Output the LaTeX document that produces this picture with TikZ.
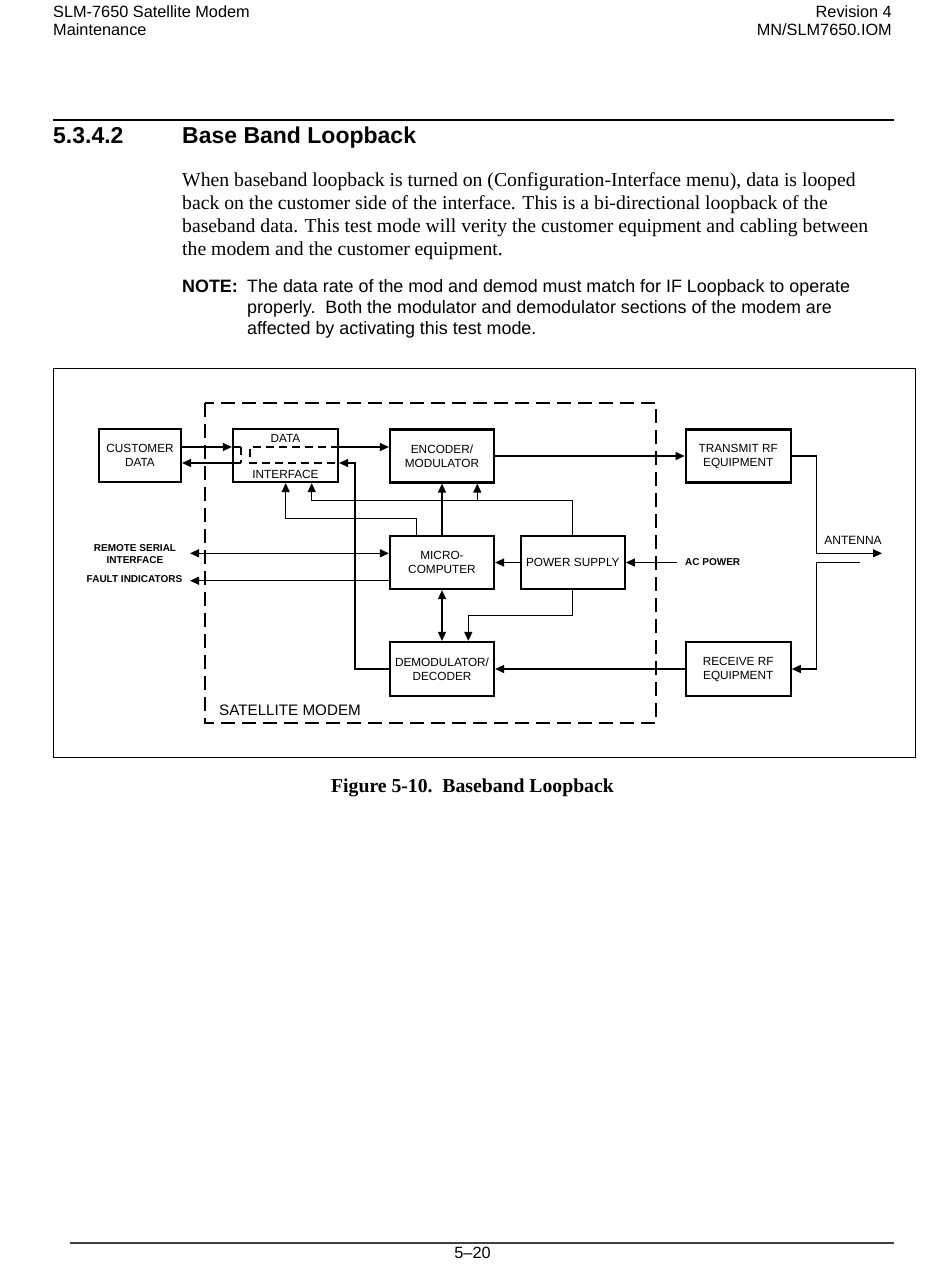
\documentclass[tikz,border=0pt]{standalone}
\usepackage{fontspec}
\setmainfont{Liberation Sans}
\newfontfamily\timesfont{Liberation Serif}
\usetikzlibrary{arrows.meta}
\begin{document}
\begin{tikzpicture}[x=1pt,y=-1pt,
  box/.style={draw, line width=2.2pt, minimum width=104pt, minimum height=53pt, align=center, inner sep=0pt, font=\fontsize{11.8}{14}\selectfont},
  conn/.style={line width=1.3pt},
  arr/.style={conn, -{Triangle[length=9pt,width=8pt]}},
  arrb/.style={conn, {Triangle[length=9pt,width=8pt]}-{Triangle[length=9pt,width=8pt]}},
  innerdash/.style={line width=1.3pt, dash pattern=on 8pt off 5pt},
  modemdash/.style={line width=1.5pt, dash pattern=on 14pt off 7pt},
  small/.style={font=\fontsize{10}{12}\selectfont\bfseries, align=center, inner sep=0pt},
  lbl/.style={font=\fontsize{11.8}{14}\selectfont, inner sep=0pt},
  hdr/.style={font=\fontsize{16.3}{18}\selectfont, inner sep=0pt},
  body/.style={font=\timesfont\fontsize{19.7}{23}\selectfont, inner sep=0pt, anchor=base west},
  note/.style={font=\fontsize{17.9}{21}\selectfont, inner sep=0pt, anchor=base west}
]
\useasboundingbox (0,0) rectangle (950,1276);
\fill[white] (0,0) rectangle (950,1276);

% page header
\node[hdr, anchor=base west] (h1) at (53,18) {SLM-7650 Satellite Modem};
\node[hdr, anchor=base west] (h2) at (53,36) {Maintenance};
\node[hdr, anchor=base east] (h3) at (892,18) {Revision 4};
\node[hdr, anchor=base east] (h4) at (892,36) {MN/SLM7650.IOM};
\draw[line width=2pt] (53,120) -- (894,120);

% heading
\node[font=\fontsize{23}{26}\selectfont\bfseries, inner sep=0pt, anchor=base west] (secnum) at (53,144) {5.3.4.2};
\node[font=\fontsize{23}{26}\selectfont\bfseries, inner sep=0pt, anchor=base west] (sectitle) at (182,144) {Base Band Loopback};

% body
\node[body] (b1) at (182,186) {When baseband loopback is turned on (Configuration-Interface menu), data is looped};
\node[body] (b2) at (182,209) {back on the customer side of the interface. This is a bi-directional loopback of the};
\node[body] (b3) at (182,232) {baseband data. This test mode will verity the customer equipment and cabling between};
\node[body] (b4) at (182,255) {the modem and the customer equipment.};

\node[note, font=\fontsize{17.9}{21}\selectfont\bfseries] (n0) at (182,292) {NOTE:};
\node[note] (n1) at (247,292) {The data rate of the mod and demod must match for IF Loopback to operate};
\node[note] (n2) at (247,313) {properly.\ \ Both the modulator and demodulator sections of the modem are};
\node[note] (n3) at (247,334) {affected by activating this test mode.};

% figure frame
\draw[line width=1pt] (53.5,368.5) rectangle (915.5,757.5);
\draw[modemdash] (205,403) rectangle (656,723);
\node[font=\fontsize{15.2}{17}\selectfont, inner sep=0pt, anchor=west] (satlbl) at (219,710) {SATELLITE MODEM};

% boxes
\node[box, minimum width=82pt] (cust) at (140,455.5) {CUSTOMER\\DATA};
\node[box, minimum width=105pt] (di) at (285.5,455.5) {};
\node[lbl] (ditop) at (285.5,438.5) {DATA};
\node[lbl] (dibot) at (285.5,474) {INTERFACE};
\node[box] (enc) at (442,456) {ENCODER/\\MODULATOR};
\node[box, minimum width=105pt] (tx) at (738.2,456) {TRANSMIT RF\\EQUIPMENT};
\node[box] (micro) at (442,562.5) {MICRO-\\COMPUTER};
\node[box] (ps) at (572.8,562.5) {POWER SUPPLY};
\node[box, minimum height=54pt] (demod) at (442,669) {DEMODULATOR/\\DECODER};
\node[box, minimum width=105pt, minimum height=54pt] (rx) at (738.2,669) {RECEIVE RF\\EQUIPMENT};

% outside labels
\node[small] (remote) at (135,554) {REMOTE SERIAL\\INTERFACE};
\node[small] (fault) at (134.5,579.5) {FAULT INDICATORS};
\node[small, anchor=west] (acp) at (685,562.5) {AC POWER};
\node[lbl, font=\fontsize{12}{14}\selectfont] (antlbl) at (853,540) {ANTENNA};

\coordinate (antout) at (882,553.3);
\coordinate (antin) at (860,562.7);
\coordinate (acsrc) at (676.7,562.5);
\coordinate (remend) at (190,553.3);
\coordinate (faultend) at (190,580.7);

% data interface loopback
\draw[arr] (cust.east |- 0,447) -- (di.west |- 0,447);
\draw[conn] (di.west |- 0,447) -- (241,447);
\draw[innerdash] (241,447) -- (241,463);
\draw[arr] (241,463) -- (cust.east |- 0,463);
\draw[innerdash] (di.east |- 0,447) -- (250,447) -- (250,463) -- (di.east |- 0,463);

% main connectors
\draw[arr] (di.east |- 0,447) -- (enc.west |- 0,447);
\draw[arr] (enc.east) -- (tx.west);
\draw[arr] (tx.east) -- (816.7,456) -- (816.7,553.3) -- (antout);
\draw[arr] (antin) -- (816.7,562.7) -- (816.7,669) -- (rx.east);
\draw[arr] (rx.west) -- (demod.east);
\draw[arr] (demod.west) -- (355,669) -- (355,463) -- (di.east |- 0,463);
\draw[arr] (acsrc) -- (ps.east);
\draw[arr] (ps.west) -- (micro.east);
\draw[arr] (ps.south) -- (572.8,615.7) -- (468.3,615.7) -- (468.3,0 |- demod.north);
\draw[arrb] (micro.south) -- (demod.north);
\draw[arr] (micro.north) -- (enc.south);
\draw[arr] (ps.north) -- (572.8,500.7) -- (311.7,500.7) -- (311.7,0 |- di.south);
\draw[arr] (477.3,500.7) -- (477.3,0 |- enc.south);
\draw[arr] (416.7,0 |- micro.north) -- (416.7,518.3) -- (285.7,518.3) -- (285.7,0 |- di.south);
\draw[arrb] (remend) -- (micro.west |- 0,553.3);
\draw[arr] (micro.west |- 0,580.7) -- (faultend);

% caption
\node[font=\timesfont\fontsize{19.7}{22}\selectfont\bfseries, inner sep=0pt, anchor=base] (cap) at (472.5,792) {Figure 5-10.\ \ Baseband Loopback};

% footer
\draw[line width=2pt, black!75] (70,1243) -- (894,1243);
\node[hdr, anchor=base] (pg) at (472.5,1258) {5--20};
\end{tikzpicture}
\end{document}
